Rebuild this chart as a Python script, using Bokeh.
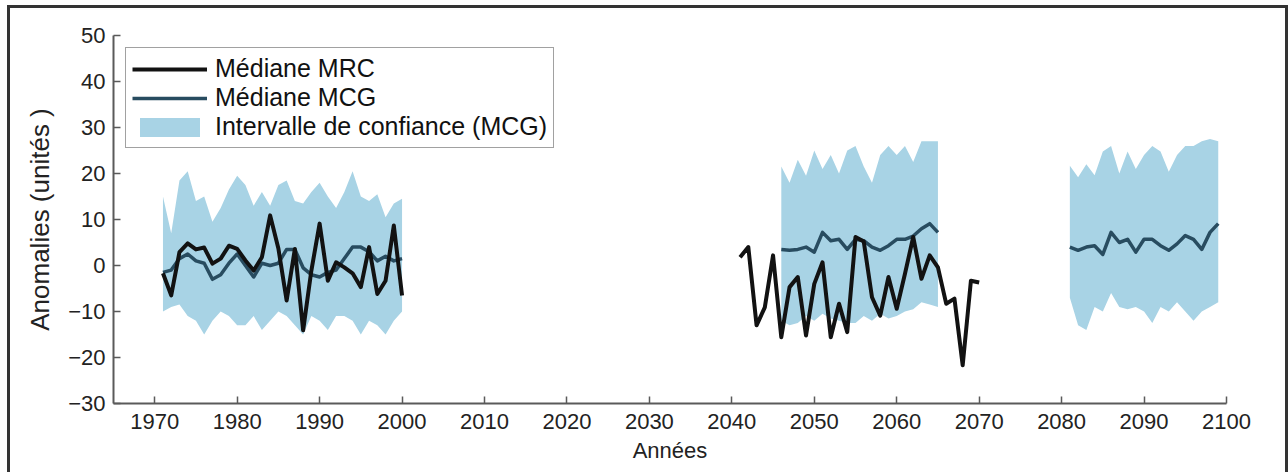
from bokeh.plotting import figure
from bokeh.layouts import column
from bokeh.models import Legend, LegendItem, FixedTicker, Range1d
from bokeh.embed import file_html
from bokeh.resources import INLINE

# ---------------- data ----------------
years_hist = list(range(1971, 2001))
mrc_hist = [-1.7, -6.5, 2.9, 4.8, 3.5, 3.9, 0.4, 1.5, 4.3, 3.6,
            1.1, -1.1, 1.8, 10.9, 3.7, -7.6, 3.6, -14.1, -1.1, 9.1,
            -3.3, 0.7, -0.4, -1.7, -4.7, 4.0, -6.2, -3.3, 8.7, -6.5]
mcg_hist = [-1.5, -1.0, 1.5, 2.5, 1.0, 0.5, -3.0, -2.0, 0.5, 2.5,
            0.0, -2.5, 0.5, 0.0, 0.5, 3.5, 3.5, -0.5, -2.0, -2.5,
            -1.5, -1.0, 1.5, 4.0, 4.0, 3.0, 1.0, 2.0, 1.0, 1.5]
ci_high_hist = [15.0, 7.0, 18.5, 20.5, 14.0, 15.0, 9.5, 12.5, 16.5, 19.5,
                17.5, 13.0, 16.0, 13.0, 17.5, 18.5, 14.0, 13.5, 16.0, 18.0,
                15.0, 12.5, 16.0, 20.5, 15.0, 14.0, 15.5, 10.5, 13.5, 14.5]
ci_low_hist = [-10.0, -9.0, -8.5, -11.0, -12.0, -15.0, -12.0, -10.0, -11.0, -13.0,
               -13.0, -11.0, -14.0, -12.0, -10.0, -11.0, -13.0, -15.0, -11.0, -12.0,
               -14.0, -11.0, -11.0, -12.0, -15.0, -12.0, -13.0, -15.0, -12.0, -10.0]

years_mrc_fut = list(range(2041, 2071))
mrc_fut = [1.8, 4.0, -13.0, -9.1, 2.2, -15.6, -4.7, -2.5, -15.2, -4.0,
           0.7, -15.6, -8.3, -14.5, 6.2, 5.2, -6.9, -10.9, -2.5, -9.4,
           -1.8, 6.2, -2.9, 2.2, -0.4, -8.3, -7.2, -21.7, -3.3, -3.7]

years_mcg_mid = list(range(2046, 2066))
mcg_mid = [3.5, 3.3, 3.5, 4.0, 2.9, 7.2, 5.4, 5.7, 3.5, 5.7,
           5.4, 4.0, 3.3, 4.3, 5.7, 5.7, 6.4, 8.0, 9.1, 7.2]
ci_high_mid = [21.5, 18.0, 23.0, 19.5, 25.0, 21.0, 24.0, 20.0, 25.0, 26.0,
               21.5, 18.0, 24.0, 26.0, 24.0, 26.0, 22.5, 27.0, 27.0, 27.0]
ci_low_mid = [-12.0, -13.0, -12.5, -11.0, -12.0, -10.5, -11.5, -12.0, -12.5, -12.5,
              -11.0, -12.0, -10.5, -11.5, -11.0, -10.0, -9.5, -8.0, -8.5, -9.0]

years_mcg_end = list(range(2081, 2100))
mcg_end = [4.0, 3.3, 4.0, 4.3, 2.4, 7.2, 5.0, 5.7, 2.9, 5.7,
           5.7, 4.3, 3.3, 4.7, 6.5, 5.7, 3.5, 7.2, 9.1]
ci_high_end = [21.7, 19.2, 22.0, 19.6, 24.8, 26.0, 20.0, 24.8, 21.0, 24.0,
               26.0, 24.8, 20.4, 24.0, 26.0, 26.0, 27.0, 27.5, 27.0]
ci_low_end = [-7.0, -13.0, -14.0, -9.0, -10.0, -6.0, -9.0, -9.5, -9.0, -10.0,
              -12.5, -9.0, -10.0, -8.0, -10.0, -12.0, -10.0, -9.0, -8.0]

x_ticks = list(range(1970, 2101, 10))
y_ticks = list(range(-30, 51, 10))
y_tick_labels = {v: (("\u2212" + str(-v)) if v < 0 else str(v)) for v in y_ticks}

labels = ["Médiane MRC", "Médiane MCG", "Intervalle de confiance (MCG)"]

# ---------------- styles ----------------
FONT = "Liberation Sans"
C_MRC = "#121212"
C_MCG = "#284c60"
C_BAND = "#a8d3e5"
C_AXIS = "#5a5a5a"

p = figure(width=1275, height=464, output_backend="svg", toolbar_location=None,
           x_range=Range1d(1965, 2100), y_range=Range1d(-30, 50),
           min_border_left=103, min_border_right=59, min_border_top=27,
           min_border_bottom=69, background_fill_color="white",
           border_fill_color="white")
p.outline_line_color = None
p.grid.visible = False

band1 = p.varea(x=years_hist, y1=ci_low_hist, y2=ci_high_hist, fill_color=C_BAND)
p.varea(x=years_mcg_mid, y1=ci_low_mid, y2=ci_high_mid, fill_color=C_BAND)
p.varea(x=years_mcg_end, y1=ci_low_end, y2=ci_high_end, fill_color=C_BAND)

mcg1 = p.line(years_hist, mcg_hist, line_color=C_MCG, line_width=3.5, line_join="round")
p.line(years_mcg_mid, mcg_mid, line_color=C_MCG, line_width=3.5, line_join="round")
p.line(years_mcg_end, mcg_end, line_color=C_MCG, line_width=3.5, line_join="round")

mrc1 = p.line(years_hist, mrc_hist, line_color=C_MRC, line_width=4, line_join="round")
p.line(years_mrc_fut, mrc_fut, line_color=C_MRC, line_width=4, line_join="round")

# axes
for ax in (p.xaxis[0], p.yaxis[0]):
    ax.axis_line_color = C_AXIS
    ax.axis_line_width = 2
    ax.major_tick_line_color = C_AXIS
    ax.major_tick_line_width = 1.5
    ax.major_tick_in = 7
    ax.major_tick_out = 0
    ax.minor_tick_line_color = None
    ax.major_label_text_font = FONT
    ax.major_label_text_font_size = "22px"
    ax.major_label_text_color = "#222222"
    ax.axis_label_text_font = FONT
    ax.axis_label_text_font_style = "normal"
    ax.axis_label_text_color = "#222222"

p.xaxis.ticker = FixedTicker(ticks=x_ticks)
p.yaxis.ticker = FixedTicker(ticks=y_ticks)
p.yaxis.major_label_overrides = y_tick_labels
p.xaxis.major_label_standoff = 10
p.yaxis.major_label_standoff = 8
p.xaxis.axis_label = "Années"
p.yaxis.axis_label = "Anomalies (unités )"
p.xaxis.axis_label_text_font_size = "22px"
p.yaxis.axis_label_text_font_size = "26px"
p.xaxis.axis_label_standoff = 6
p.yaxis.axis_label_standoff = 10

legend = Legend(items=[LegendItem(label=labels[0], renderers=[mrc1]),
                       LegendItem(label=labels[1], renderers=[mcg1]),
                       LegendItem(label=labels[2], renderers=[band1])],
                location="top_left")
legend.margin = 12
legend.padding = 6
legend.spacing = 0
legend.label_standoff = 8
legend.glyph_width = 75
legend.glyph_height = 24
legend.label_height = 28
legend.label_text_font = FONT
legend.label_text_font_size = "25px"
legend.label_text_color = "#111111"
legend.border_line_color = "#444444"
legend.border_line_width = 1.5
legend.background_fill_alpha = 1
p.add_layout(legend)

# outer frame of the image (left, top and right edges) as the layout's border
layout = column(p, styles={"border-left": "3px solid #333333",
                           "border-top": "3px solid #333333",
                           "border-right": "3px solid #333333",
                           "margin-left": "7px", "margin-top": "5px",
                           "background-color": "white"})

open("out.html", "w").write(file_html(layout, INLINE))
